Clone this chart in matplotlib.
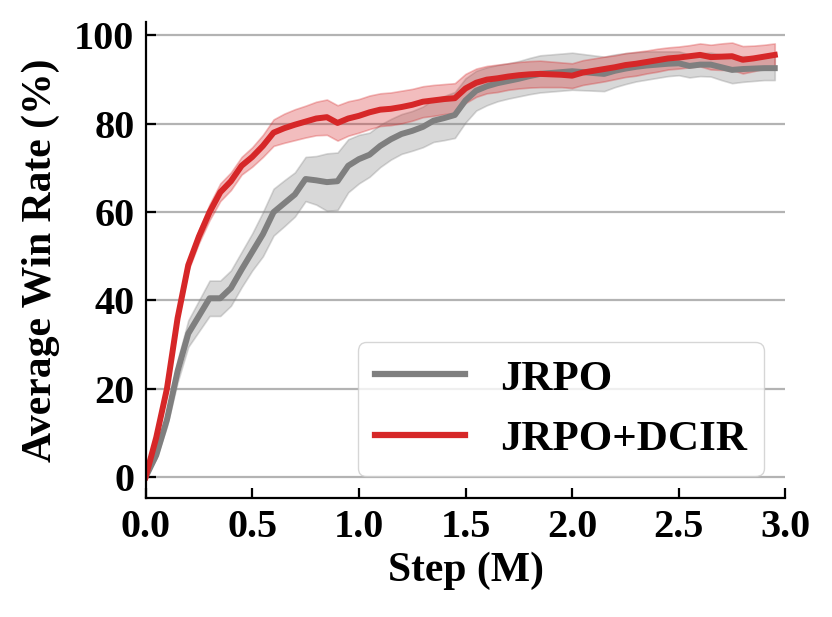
import numpy as np
import matplotlib
matplotlib.use('Agg')
import matplotlib.pyplot as plt

plt.rcParams['font.family'] = ['Liberation Serif', 'DejaVu Serif']
plt.rcParams['font.weight'] = 'bold'

# training steps (M)
steps = np.arange(60) * 0.05

# JRPO
jrpo_mean = [0, 5, 13, 24, 32.5, 36.5, 40.5, 40.5, 42.8, 47,
             51, 55, 60, 62, 64, 67.5, 67.2, 66.8, 67, 70.5,
             72, 73, 75, 76.5, 77.7, 78.4, 79.3, 80.7, 81.3, 82,
             85.3, 87.5, 88.5, 89.2, 89.7, 90.2, 90.8, 91.3, 91.5, 91.7,
             91.9, 91.7, 91.5, 91.3, 92, 92.5, 92.9, 93.2, 93.4, 93.6,
             93.7, 93.1, 93.4, 93.4, 92.8, 92.2, 92.4, 92.5, 92.6, 92.6]
jrpo_std = [0, 0.8, 1.5, 2.5, 3, 3.5, 4, 4, 4, 4,
            4.2, 5, 5.3, 5.2, 5, 5, 5.5, 6.5, 6.5, 6,
            5.5, 5, 4.8, 4.6, 4.5, 4.5, 4.6, 4.8, 5, 5.2,
            5, 4.5, 4.3, 4.1, 4.0, 4.0, 4.1, 4.2, 4.2, 4.2,
            4.2, 4.1, 4.0, 3.9, 3.7, 3.5, 3.3, 3.2, 3.0, 2.8,
            2.7, 2.6, 2.6, 2.7, 2.9, 3.0, 2.9, 2.8, 2.7, 2.7]

# JRPO+DCIR
dcir_mean = [0, 9, 20, 36, 48, 54.5, 60, 64.5, 67, 70.5,
             72.5, 75, 78, 79, 79.8, 80.5, 81.2, 81.5, 80.2, 81.2,
             81.8, 82.6, 83.2, 83.4, 83.8, 84.3, 85, 85.3, 85.6, 85.8,
             88, 89.3, 90, 90.3, 90.7, 91, 91.2, 91.3, 91.2, 91.1,
             90.9, 91.6, 92, 92.4, 92.8, 93.3, 93.6, 94, 94.4, 94.8,
             95, 95.3, 95.6, 95.1, 95.2, 95.3, 94.5, 94.8, 95.2, 95.6]
dcir_std = [0, 0.5, 0.8, 1, 1.2, 1.5, 1.8, 2, 2, 2,
            2.2, 2.5, 3, 3.3, 3.5, 3.6, 3.8, 4, 4, 3.9,
            3.8, 3.8, 3.7, 3.7, 3.7, 3.6, 3.5, 3.5, 3.4, 3.4,
            3.3, 3.2, 3.1, 3.1, 3.0, 3.0, 3.0, 3.0, 2.9, 2.8,
            2.8, 2.8, 2.8, 2.8, 2.7, 2.7, 2.7, 2.6, 2.6, 2.5,
            2.5, 2.5, 2.6, 2.8, 3.0, 3.1, 3.1, 2.9, 2.7, 2.6]

yticks = [0, 20, 40, 60, 80, 100]
xticks = [0.0, 0.5, 1.0, 1.5, 2.0, 2.5, 3.0]

fig = plt.figure(figsize=(8.32, 6.17), dpi=100)
ax = fig.add_axes([0.175, 0.193, 0.769, 0.771])

series = [('JRPO', jrpo_mean, jrpo_std, '#7f7f7f'),
          ('JRPO+DCIR', dcir_mean, dcir_std, '#d62728')]
for name, m, s, c in series:
    m = np.array(m)
    s = np.array(s)
    ax.fill_between(steps, m - s, m + s, color=c, alpha=0.3, linewidth=1.2)
    ax.plot(steps, m, color=c, linewidth=4.3, label=name)

ax.set_xlim(0, 3.0)
ax.set_ylim(-4.7, 103)
ax.set_xticks(xticks)
ax.set_yticks(yticks)
ax.set_xticklabels(['%.1f' % v for v in xticks])
ax.yaxis.grid(True, color='#b3b3b3', linewidth=1.6)
ax.set_axisbelow(True)

for side in ['top', 'right']:
    ax.spines[side].set_visible(False)
for side in ['left', 'bottom']:
    ax.spines[side].set_linewidth(1.6)

ax.tick_params(axis='both', direction='in', length=7, width=1.6, labelsize=29)
ax.tick_params(axis='y', pad=8)
ax.tick_params(axis='x', pad=8)

ax.set_xlabel('Step (M)', fontsize=30, fontweight='bold', labelpad=4)
ax.set_ylabel('Average Win Rate (%)', fontsize=30, fontweight='bold', labelpad=10)

leg = ax.legend(loc='lower right', handlelength=2.1,
                prop={'weight': 'bold', 'size': 31})
for line in leg.get_lines():
    line.set_linewidth(4.5)

fig.savefig('out.png', dpi=100)
